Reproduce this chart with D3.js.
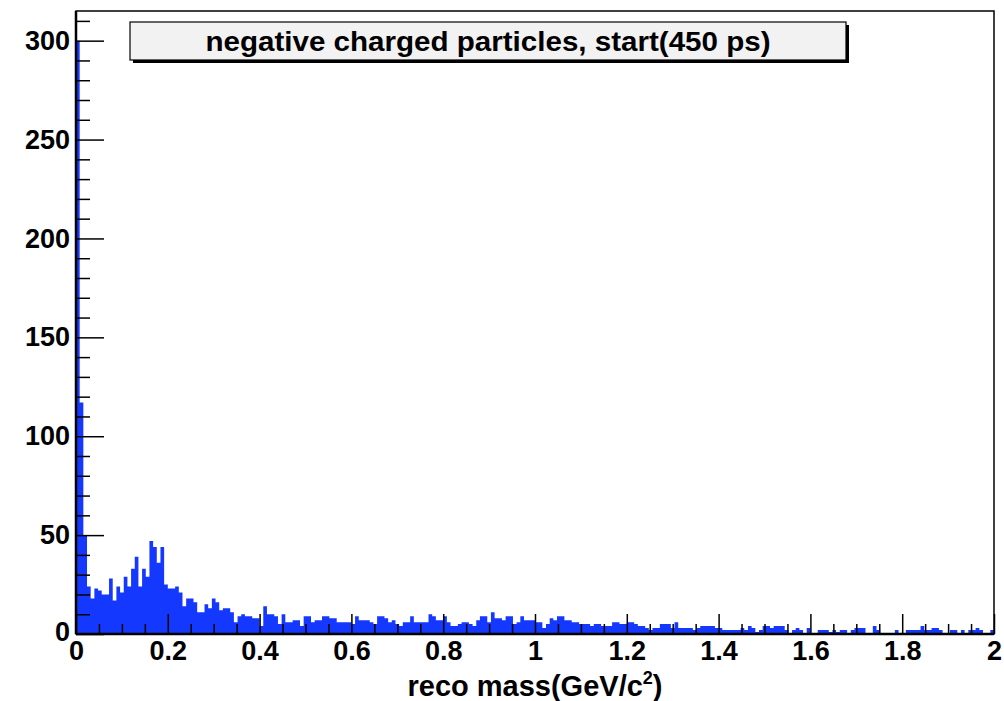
<!DOCTYPE html>
<html>
<head>
<meta charset="utf-8">
<script src="https://cdn.jsdelivr.net/npm/d3@7"></script>
<style>
  body { margin: 0; background: #fff; }
  svg text { font-family: "Liberation Sans", Arial, Helvetica, sans-serif; font-weight: bold; fill: #000; }
</style>
</head>
<body>
<svg id="chart" width="1004" height="701"></svg>
<script>
// histogram: 250 bins over [0, 2] GeV/c^2
const massRange = [0, 2];
const counts = [
  300, 117, 50, 24, 18, 23, 22, 20, 20, 28,
  17, 24, 21, 29, 24, 33, 39, 24, 33, 29,
  47, 44, 36, 44, 25, 23, 23, 24, 21, 14,
  18, 18, 16, 11, 11, 15, 13, 18, 16, 12,
  13, 13, 11, 6, 9, 10, 9, 9, 8, 8,
  4, 14, 10, 10, 9, 5, 10, 6, 6, 7,
  7, 4, 9, 9, 6, 7, 7, 9, 9, 8,
  8, 6, 6, 6, 6, 5, 9, 7, 7, 7,
  6, 5, 9, 9, 8, 6, 7, 5, 4, 6,
  6, 9, 6, 6, 6, 6, 10, 9, 7, 7,
  9, 6, 4, 4, 5, 6, 6, 5, 4, 7,
  9, 9, 6, 11, 8, 8, 7, 9, 9, 5,
  6, 9, 7, 7, 7, 6, 6, 3, 5, 8,
  7, 9, 9, 7, 7, 6, 6, 5, 5, 5,
  4, 5, 5, 4, 4, 4, 6, 6, 5, 5,
  6, 6, 5, 4, 4, 3, 2, 3, 3, 5,
  5, 5, 3, 6, 3, 3, 3, 3, 2, 3,
  4, 4, 4, 4, 3, 3, 2, 2, 2, 2,
  2, 3, 2, 4, 3, 1, 2, 4, 4, 3,
  4, 4, 4, 2, 0, 2, 3, 2, 0, 3,
  0, 0, 2, 2, 2, 1, 2, 1, 2, 2,
  0, 2, 3, 3, 3, 0, 0, 4, 2, 0,
  0, 0, 0, 2, 0, 0, 2, 2, 2, 2,
  4, 2, 2, 3, 3, 2, 0, 0, 2, 2,
  0, 2, 0, 2, 2, 3, 2, 0, 0, 2
];
const xTicks = [0, 0.2, 0.4, 0.6, 0.8, 1, 1.2, 1.4, 1.6, 1.8, 2];
const yTicks = [0, 50, 100, 150, 200, 250, 300];
const yMax = 315;
const titleText = "negative charged particles, start(450 ps)";

const frame = { left: 76, right: 994, top: 11, bottom: 634 };

const svg = d3.select("#chart");

const x = d3.scaleLinear().domain(massRange).range([frame.left, frame.right]);
const y = d3.scaleLinear().domain([0, yMax]).range([frame.bottom, frame.top]);

const binW = (massRange[1] - massRange[0]) / counts.length;

// step area for the histogram so neighbouring bins have no seams
const pts = counts.map((c, i) => [massRange[0] + i * binW, c]);
pts.push([massRange[1], counts[counts.length - 1]]);

const area = d3.area()
    .curve(d3.curveStepAfter)
    .x(d => x(d[0]))
    .y0(y(0))
    .y1(d => y(Math.min(d[1], yMax)));

svg.append("path")
    .datum(pts)
    .attr("d", area)
    .attr("fill", "#1538ff")
    .attr("stroke", "none");

// minor ticks
const xMinor = d3.range(0, 2.0001, 0.05).filter(v => !xTicks.some(t => Math.abs(t - v) < 1e-6));
const yMinor = d3.range(0, yMax, 10).filter(v => v % 50 !== 0);

svg.append("g")
    .attr("transform", `translate(0,${frame.bottom})`)
    .call(d3.axisBottom(x).tickValues(xMinor).tickSize(-10).tickFormat(""))
    .call(g => g.select(".domain").remove());

svg.append("g")
    .attr("transform", `translate(${frame.left},0)`)
    .call(d3.axisLeft(y).tickValues(yMinor).tickSize(-14).tickFormat(""))
    .call(g => g.select(".domain").remove());

// major ticks + labels
const xAxis = svg.append("g")
    .attr("transform", `translate(0,${frame.bottom})`)
    .call(d3.axisBottom(x).tickValues(xTicks).tickSize(-20).tickPadding(7)
        .tickFormat(d3.format("~g")));
xAxis.select(".domain").remove();
xAxis.selectAll("text").style("font-size", "27px");

const yAxis = svg.append("g")
    .attr("transform", `translate(${frame.left},0)`)
    .call(d3.axisLeft(y).tickValues(yTicks).tickSize(-28).tickPadding(6));
yAxis.select(".domain").remove();
yAxis.selectAll("text").style("font-size", "27px");
// the 0 of the y axis sits a touch higher so it clears the x-axis 0
yAxis.selectAll("text").filter(d => d === 0).attr("dy", "0.25em");

svg.selectAll(".tick line").attr("stroke", "#000").attr("stroke-width", 1.5);

// frame
svg.append("rect")
    .attr("x", frame.left).attr("y", frame.top)
    .attr("width", frame.right - frame.left).attr("height", frame.bottom - frame.top)
    .attr("fill", "none").attr("stroke", "#000").attr("stroke-width", 1.5);
svg.append("line")
    .attr("x1", frame.left).attr("x2", frame.left).attr("y1", frame.top).attr("y2", frame.bottom)
    .attr("stroke", "#000").attr("stroke-width", 2.5);
svg.append("line")
    .attr("x1", frame.left).attr("x2", frame.right).attr("y1", frame.bottom).attr("y2", frame.bottom)
    .attr("stroke", "#000").attr("stroke-width", 2.5);

// x title
const xt = svg.append("text")
    .attr("x", (frame.left + frame.right) / 2)
    .attr("y", 696)
    .attr("text-anchor", "middle")
    .style("font-size", "29px");
xt.append("tspan").text("reco mass(GeV/c");
xt.append("tspan").attr("dy", -12).style("font-size", "18px").text("2");
xt.append("tspan").attr("dy", 12).text(")");

// title box with shadow
const bx = 130, by = 22, bw = 716, bh = 38;
svg.append("rect")
    .attr("x", bx + 3).attr("y", by + 3).attr("width", bw).attr("height", bh)
    .attr("fill", "#000");
svg.append("rect")
    .attr("x", bx).attr("y", by).attr("width", bw).attr("height", bh)
    .attr("fill", "#f2f2f2").attr("stroke", "#000").attr("stroke-width", 1.2);
svg.append("text")
    .attr("x", 488)
    .attr("y", by + bh / 2 + 10)
    .attr("text-anchor", "middle")
    .attr("textLength", 565)
    .attr("lengthAdjust", "spacingAndGlyphs")
    .style("font-size", "28px")
    .text(titleText);
</script>
</body>
</html>
